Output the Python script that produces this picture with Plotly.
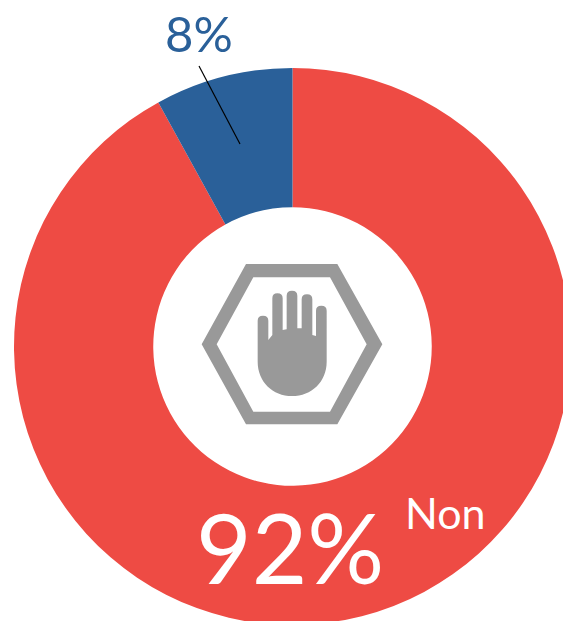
import plotly.graph_objects as go

categories = ["Non", "Autre"]
values = [92, 8]
slice_colors = ["#EE4B44", "#2A6099"]

W, H = 571, 625  # slightly wider than the window: the ring is cropped at right and bottom
GREY = "#999999"
FONT = "Lato, Carlito, sans-serif"

def X(px):
    return px / W

def Y(py):
    return 1 - py / H

def path(cmds):
    out = []
    for c in cmds:
        op, pts = c[0], c[1:]
        out.append(op + " ".join(f"{X(p[0]):.5f},{Y(p[1]):.5f}" for p in pts))
    return " ".join(out) + " Z"

def z(x, y):
    return (190 + x / 3, 250 + y / 3)

fig = go.Figure(go.Pie(
    labels=categories,
    values=values,
    hole=0.5,
    sort=False,
    direction="clockwise",
    rotation=0,
    marker=dict(colors=slice_colors, line=dict(width=0)),
    textinfo="none",
    showlegend=False,
    domain=dict(x=[14 / W, 1], y=[0, 557 / H]),
))

hexagon = path([
    ("M", z(35, 283)), ("L", z(168, 42)), ("L", z(442, 42)), ("L", z(577, 283)),
    ("L", z(442, 523)), ("L", z(168, 523)),
]) + " " + path([
    ("M", z(80, 283)), ("L", z(190, 82)), ("L", z(420, 82)), ("L", z(530, 283)),
    ("L", z(420, 485)), ("L", z(190, 485)),
])

hand = path([
    ("M", z(203, 335)),
    ("L", z(203, 212)), ("Q", z(203, 197), z(219, 197)), ("Q", z(235, 197), z(235, 212)),
    ("L", z(235, 270)), ("L", z(247, 255)),
    ("L", z(247, 145)), ("Q", z(247, 130), z(262, 130)), ("Q", z(278, 130), z(278, 145)),
    ("L", z(278, 240)), ("L", z(290, 238)),
    ("L", z(290, 137)), ("Q", z(290, 122), z(306, 122)), ("Q", z(322, 122), z(322, 137)),
    ("L", z(322, 235)), ("L", z(335, 235)),
    ("L", z(335, 148)), ("Q", z(335, 133), z(351, 133)), ("Q", z(367, 133), z(367, 148)),
    ("L", z(367, 255)), ("L", z(378, 258)),
    ("L", z(378, 182)), ("Q", z(378, 167), z(394, 167)), ("Q", z(410, 167), z(410, 182)),
    ("L", z(410, 335)),
    ("C", z(410, 395), z(365, 438), z(306, 438)),
    ("C", z(248, 438), z(203, 395), z(203, 335)),
])

shapes = [
    dict(type="path", xref="paper", yref="paper", path=hexagon, fillcolor=GREY, line=dict(width=0)),
    dict(type="path", xref="paper", yref="paper", path=hand, fillcolor=GREY, line=dict(width=0)),
    dict(type="line", xref="paper", yref="paper", x0=X(199), y0=Y(66), x1=X(240), y1=Y(144),
         line=dict(color="#000000", width=1.2)),
]

def label(text, cx, cy, size, color):
    return dict(text=text, xref="paper", yref="paper", x=X(cx), y=Y(cy), xanchor="center",
                yanchor="middle", showarrow=False, font=dict(family=FONT, size=size, color=color))

fig.update_layout(
    width=W,
    height=H,
    autosize=False,
    margin=dict(l=0, r=0, t=0, b=0),
    paper_bgcolor="#ffffff",
    shapes=shapes,
    annotations=[
        label(f"{values[1]}%", 199, 33, 49, slice_colors[1]),
        label(f"{values[0]}%", 290, 546, 96, "#ffffff"),
        label(categories[0], 445, 512, 43, "#ffffff"),
    ],
)

fig.write_html(
    "out.html",
    config=dict(displayModeBar=False),
    post_script="document.documentElement.style.overflow='hidden';document.body.style.overflow='hidden';document.body.style.margin='0';",
)
